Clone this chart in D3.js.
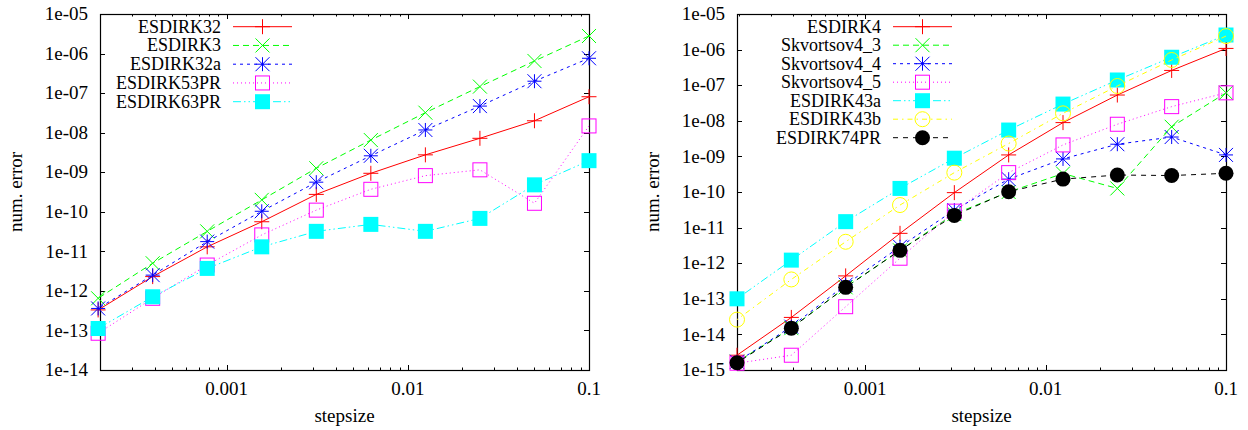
<!DOCTYPE html>
<html>
<head>
<meta charset="utf-8">
<script src="https://cdn.jsdelivr.net/npm/d3@7"></script>
<style>
  body { margin: 0; background: #fff; }
  text { font-family: "Liberation Serif", "Times New Roman", serif; font-size: 19px; fill: #000; }
  text.key { font-size: 18px; }
</style>
</head>
<body>
<svg id="chart" width="1248" height="430"></svg>
<script>
// step sizes used in both panels
var stepsizes = [0.1, 0.05, 0.025, 0.0125, 0.00625, 0.003125, 0.0015625, 0.00078125, 0.000390625, 0.0001953125]

// left panel
var esdirk32 = [8.1e-8, 2.0e-8, 7.2e-9, 2.75e-9, 9.4e-10, 2.75e-10, 5.6e-11, 1.3e-11, 2.3e-12, 3.3e-13]
var esdirk3 = [2.78e-6, 6.5e-7, 1.46e-7, 3.2e-8, 6.5e-9, 1.26e-9, 2.0e-10, 3.2e-11, 5.0e-12, 6.5e-13]
var esdirk32a = [7.6e-7, 2.0e-7, 4.7e-8, 1.17e-8, 2.6e-9, 5.6e-10, 1.03e-10, 1.76e-11, 2.5e-12, 3.6e-13]
var esdirk53pr = [1.48e-8, 1.64e-10, 1.15e-9, 8.2e-10, 3.7e-10, 1.1e-10, 2.6e-11, 4.5e-12, 6.5e-13, 8.5e-14]
var esdirk63pr = [1.96e-9, 4.8e-10, 6.8e-11, 3.2e-11, 4.8e-11, 3.2e-11, 1.3e-11, 3.7e-12, 7.1e-13, 1.12e-13]

// right panel
var esdirk4 = [1.08e-6, 2.6e-7, 5.3e-8, 8.9e-9, 1.1e-9, 9.6e-11, 6.9e-12, 4.4e-13, 3.0e-14, 2.6e-15]
var skv43 = [6.1e-8, 6.8e-9, 1.26e-10, 3.3e-10, 1.0e-10, 2.4e-11, 2.3e-12, 2.1e-13, 1.5e-14, 1.7e-15]
var skv44 = [1.1e-9, 3.5e-9, 2.2e-9, 8.5e-10, 2.3e-10, 3.1e-11, 2.9e-12, 2.5e-13, 1.65e-14, 1.7e-15]
var skv45 = [6.1e-8, 2.5e-8, 8.0e-9, 2.1e-9, 3.5e-10, 2.9e-11, 1.38e-12, 6.0e-14, 2.6e-15, 1.55e-15]
var esdirk43a = [2.57e-6, 6.1e-7, 1.4e-7, 2.95e-8, 5.5e-9, 8.9e-10, 1.26e-10, 1.47e-11, 1.22e-12, 1.0e-13]
var esdirk43b = [2.4e-6, 5.1e-7, 9.5e-8, 1.62e-8, 2.3e-9, 3.5e-10, 4.3e-11, 4.0e-12, 3.5e-13, 2.6e-14]
var esdirk74pr = [3.35e-10, 2.9e-10, 3.0e-10, 2.3e-10, 1.02e-10, 2.2e-11, 2.3e-12, 2.1e-13, 1.5e-14, 1.6e-15]

// tick labels
var xTickLabels = ['0.001', '0.01', '0.1']
var leftYTickLabels = ['1e-14', '1e-13', '1e-12', '1e-11', '1e-10', '1e-09', '1e-08', '1e-07', '1e-06', '1e-05']
var rightYTickLabels = ['1e-15', '1e-14', '1e-13', '1e-12', '1e-11', '1e-10', '1e-09', '1e-08', '1e-07', '1e-06', '1e-05']

var leftSeries = [
  { name: 'ESDIRK32', values: esdirk32, color: '#ff0000', dash: null, marker: 'plus' },
  { name: 'ESDIRK3', values: esdirk3, color: '#00ff00', dash: '6,4', marker: 'cross' },
  { name: 'ESDIRK32a', values: esdirk32a, color: '#0000ff', dash: '3,4', marker: 'star' },
  { name: 'ESDIRK53PR', values: esdirk53pr, color: '#ff00ff', dash: '1,3', marker: 'square' },
  { name: 'ESDIRK63PR', values: esdirk63pr, color: '#00ffff', dash: '8,3,1.5,3,1.5,3', marker: 'fsquare' }
]

var rightSeries = [
  { name: 'ESDIRK4', values: esdirk4, color: '#ff0000', dash: null, marker: 'plus' },
  { name: 'Skvortsov4_3', values: skv43, color: '#00ff00', dash: '6,4', marker: 'cross' },
  { name: 'Skvortsov4_4', values: skv44, color: '#0000ff', dash: '3,4', marker: 'star' },
  { name: 'Skvortsov4_5', values: skv45, color: '#ff00ff', dash: '1,3', marker: 'square' },
  { name: 'ESDIRK43a', values: esdirk43a, color: '#00ffff', dash: '8,3,1.5,3,1.5,3', marker: 'fsquare' },
  { name: 'ESDIRK43b', values: esdirk43b, color: '#ffff00', dash: '5,4,1.5,4', marker: 'circle' },
  { name: 'ESDIRK74PR', values: esdirk74pr, color: '#000000', dash: '5,5', marker: 'fcircle' }
]

var svg = d3.select('#chart')

function drawMarker (g, type, x, y, color) {
  var s = 7
  if (type === 'plus') {
    g.append('path').attr('d', 'M' + (x - 7.5) + ',' + y + 'H' + (x + 7.5) + 'M' + x + ',' + (y - 7.5) + 'V' + (y + 7.5))
      .attr('stroke', color).attr('fill', 'none')
  } else if (type === 'cross') {
    g.append('path').attr('d', 'M' + (x - s) + ',' + (y - s) + 'L' + (x + s) + ',' + (y + s) + 'M' + (x - s) + ',' + (y + s) + 'L' + (x + s) + ',' + (y - s))
      .attr('stroke', color).attr('fill', 'none')
  } else if (type === 'star') {
    g.append('path').attr('d', 'M' + (x - s) + ',' + y + 'H' + (x + s) + 'M' + x + ',' + (y - s) + 'V' + (y + s) +
      'M' + (x - s) + ',' + (y - s) + 'L' + (x + s) + ',' + (y + s) + 'M' + (x - s) + ',' + (y + s) + 'L' + (x + s) + ',' + (y - s))
      .attr('stroke', color).attr('fill', 'none')
  } else if (type === 'square') {
    g.append('rect').attr('x', x - s).attr('y', y - s).attr('width', 2 * s).attr('height', 2 * s)
      .attr('stroke', color).attr('fill', 'none')
  } else if (type === 'fsquare') {
    g.append('rect').attr('x', x - 7.5).attr('y', y - 7.5).attr('width', 15).attr('height', 15)
      .attr('fill', color)
  } else if (type === 'circle') {
    g.append('circle').attr('cx', x).attr('cy', y).attr('r', 7.5).attr('stroke', color).attr('fill', 'none')
  } else if (type === 'fcircle') {
    g.append('circle').attr('cx', x).attr('cy', y).attr('r', 7.5).attr('fill', color)
  }
}

function drawPanel (opts) {
  var x = d3.scaleLog().domain(opts.xDomain).range([opts.left, opts.right])
  var y = d3.scaleLog().domain(opts.yDomain).range([opts.bottom, opts.top])
  var g = svg.append('g')

  // log minor ticks on x
  var minor = []
  ;[1e-4, 1e-3, 1e-2].forEach(function (d) {
    for (var m = 2; m <= 9; m++) {
      var v = d * m
      if (v >= opts.xDomain[0] && v <= opts.xDomain[1]) minor.push(v)
    }
  })
  var ticks = g.append('g').attr('stroke', '#000').attr('stroke-width', 1)
  minor.forEach(function (v) {
    var px = Math.round(x(v)) + 0.5
    ticks.append('line').attr('x1', px).attr('x2', px).attr('y1', opts.bottom).attr('y2', opts.bottom - 2.5)
    ticks.append('line').attr('x1', px).attr('x2', px).attr('y1', opts.top).attr('y2', opts.top + 2.5)
  })
  xTickLabels.forEach(function (lab) {
    var px = Math.round(x(+lab)) + 0.5
    ticks.append('line').attr('x1', px).attr('x2', px).attr('y1', opts.bottom).attr('y2', opts.bottom - 5)
    ticks.append('line').attr('x1', px).attr('x2', px).attr('y1', opts.top).attr('y2', opts.top + 5)
    g.append('text').attr('x', x(+lab)).attr('y', opts.bottom + 25).attr('text-anchor', 'middle').text(lab)
  })
  opts.yLabels.forEach(function (lab) {
    var py = Math.round(y(+lab)) + 0.5
    ticks.append('line').attr('x1', opts.left).attr('x2', opts.left + 5).attr('y1', py).attr('y2', py)
    ticks.append('line').attr('x1', opts.right).attr('x2', opts.right - 5).attr('y1', py).attr('y2', py)
    g.append('text').attr('x', opts.left - 12).attr('y', y(+lab)).attr('dy', '0.33em')
      .attr('text-anchor', 'end').text(lab)
  })

  // frame
  g.append('rect').attr('x', opts.left + 0.5).attr('y', opts.top + 0.5)
    .attr('width', opts.right - opts.left).attr('height', opts.bottom - opts.top)
    .attr('fill', 'none').attr('stroke', '#000').attr('stroke-width', 1.2)

  // axis titles
  g.append('text').attr('x', (opts.left + opts.right) / 2).attr('y', opts.bottom + 52)
    .attr('text-anchor', 'middle').text('stepsize')
  g.append('text').attr('transform', 'translate(' + (opts.left - 78) + ',' + ((opts.top + opts.bottom) / 2) + ') rotate(-90)')
    .attr('text-anchor', 'middle').text('num. error')

  var line = d3.line().x(function (d) { return x(d[0]) }).y(function (d) { return y(d[1]) })

  opts.series.forEach(function (s, i) {
    var pts = stepsizes.map(function (st, k) { return [st, s.values[k]] })
    var sg = g.append('g')
    sg.append('path').attr('d', line(pts)).attr('fill', 'none').attr('stroke', s.color)
      .attr('stroke-width', 1).attr('stroke-dasharray', s.dash)
    pts.forEach(function (p) { drawMarker(sg, s.marker, x(p[0]), y(p[1]), s.color) })

    // legend entry
    var ly = opts.legendTop + i * opts.legendStep
    g.append('text').attr('class', 'key').attr('x', opts.legendText).attr('y', ly).attr('dy', '0.33em')
      .attr('text-anchor', 'end').text(s.name)
    sg.append('line').attr('x1', opts.legendText + 12).attr('x2', opts.legendText + 71)
      .attr('y1', ly).attr('y2', ly).attr('stroke', s.color).attr('stroke-dasharray', s.dash)
    drawMarker(sg, s.marker, opts.legendText + 41.5, ly, s.color)
  })
}

drawPanel({
  left: 100, right: 589, top: 14, bottom: 370,
  xDomain: [0.0002, 0.1], yDomain: [1e-14, 1e-5],
  yLabels: leftYTickLabels, series: leftSeries,
  legendText: 221, legendTop: 26.7, legendStep: 18.75
})

drawPanel({
  left: 737, right: 1226, top: 14, bottom: 370,
  xDomain: [0.0001953125, 0.1], yDomain: [1e-15, 1e-5],
  yLabels: rightYTickLabels, series: rightSeries,
  legendText: 881, legendTop: 26.7, legendStep: 18.5
})
</script>
</body>
</html>
